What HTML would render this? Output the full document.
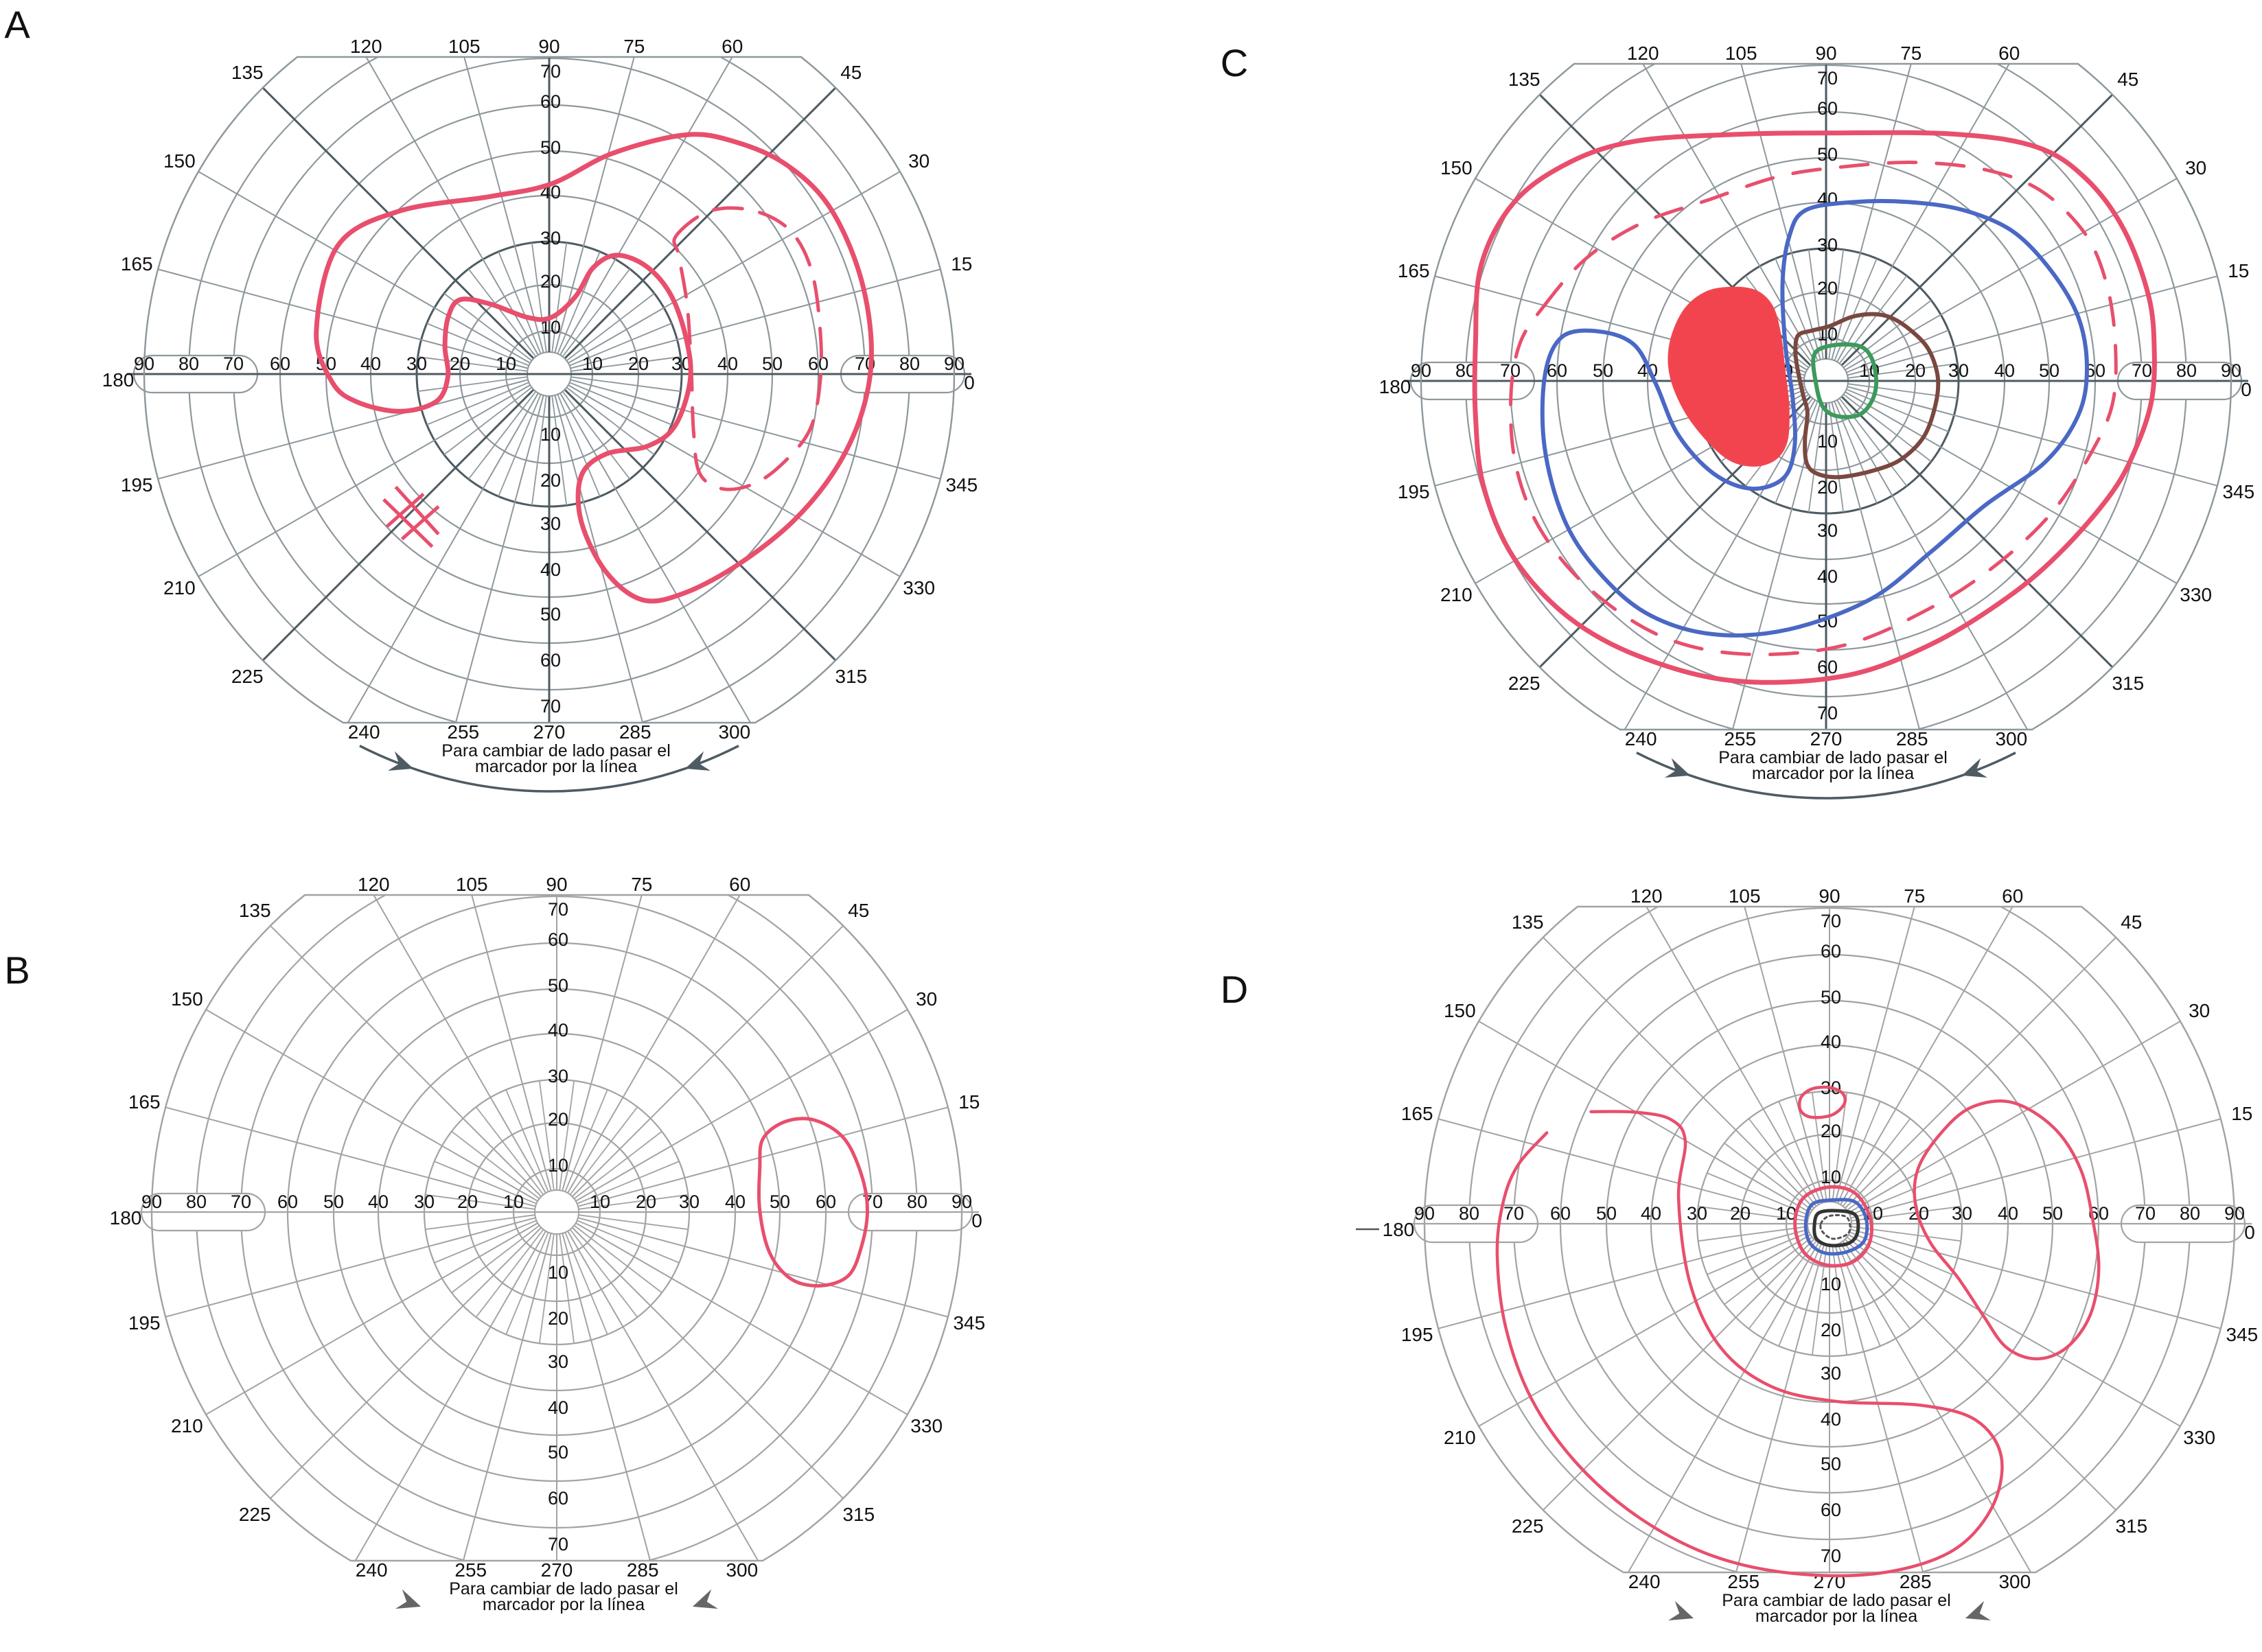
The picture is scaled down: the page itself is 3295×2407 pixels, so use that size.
<!DOCTYPE html>
<html><head><meta charset="utf-8"><style>
html,body{margin:0;padding:0;background:#fff;}
svg{display:block;}
text{font-family:"Liberation Sans",sans-serif;fill:#111;}
</style></head><body>
<svg id="fig" xmlns="http://www.w3.org/2000/svg" width="3295" height="2407" viewBox="0 0 3295 2407">
<rect width="3295" height="2407" fill="#fff"/>
</svg>
<script>
// ---- data (degrees of visual field: horizontal, vertical) ----
const ringDegrees = [10,20,30,40,50,60,70,80,90];
const axisTickLabels = ["10","20","30","40","50","60","70","80","90"];
const vertTickLabels = ["10","20","30","40","50","60","70"];
const meridianLabels = [0,15,30,45,60,75,90,105,120,135,150,165,180,195,210,225,240,255,270,285,300,315,330,345];

const isopterAOuter = [[-47.3,28.6],[-52.1,9.5],[-48.7,-1.7],[-43.2,-6.2],[-33.7,-8.4],[-25.5,-6.2],[-22.8,-0.6],[-23.5,6.2],[-22.8,12.9],[-20.1,16.8],[-13.2,15.7],[-5.0,12.9],[0.4,12.9],[5.9,17.4],[10.0,24.1],[15.4,26.9],[22.2,24.1],[27.7,17.4],[31.1,7.3],[31.8,-1.7],[28.4,-11.8],[22.2,-16.3],[12.7,-18.0],[7.2,-23.0],[7.2,-33.1],[12.7,-44.3],[20.9,-50.5],[30.4,-48.8],[42.7,-42.1],[55.0,-32.0],[64.5,-19.6],[70.0,-6.2],[71.4,7.3],[68.6,23.0],[61.8,37.6],[52.3,46.6],[41.3,51.6],[30.4,53.3],[14.1,49.4],[0.4,42.6],[-13.2,39.8],[-33.7,36.5]];
const isopterADashed = [[28.4,30.9],[35.9,36.5],[45.4,36.5],[53.6,32.0],[58.4,23.0],[60.4,9.5],[60.4,-1.7],[58.4,-11.8],[53.6,-18.5],[46.8,-24.1],[39.3,-25.8],[33.8,-22.4],[32.5,-12.9],[32.1,0.6],[31.1,15.2],[29.1,26.4]];
const hashMarksA = [[[-37.1,-28.1],[-26.2,-38.7]],[[-34.4,-25.3],[-24.8,-35.9]],[[-36.4,-34.2],[-28.2,-26.9]],[[-33.0,-37.0],[-24.8,-29.7]]];

const isopterB = [[46.2,16.4],[51.0,20.2],[57.4,20.5],[63.8,16.4],[67.6,8.3],[68.9,0.3],[67.6,-7.7],[64.8,-14.1],[59.0,-16.4],[52.6,-15.1],[47.8,-9.3],[45.5,0.3],[45.5,9.9]];

const isopterCOuter = [[-77.8,8.1],[-76.6,25.6],[-69.3,39.6],[-57.1,48.4],[-42.4,53.2],[-20.5,55.0],[0.2,55.4],[28.3,55.0],[46.6,51.9],[57.6,44.9],[66.1,33.5],[71.6,18.6],[72.8,6.3],[72.2,-4.2],[69.1,-13.9],[63.7,-24.4],[52.7,-37.5],[40.5,-48.1],[23.4,-58.6],[3.9,-65.6],[-20.5,-66.5],[-41.2,-61.2],[-57.1,-52.5],[-69.3,-39.3],[-76.0,-23.5],[-77.8,-7.7]];
const isopterCDashed = [[-62.6,16.8],[-53.4,27.4],[-41.2,35.3],[-26.6,40.5],[-10.7,45.8],[3.9,48.0],[19.8,48.9],[35.6,47.1],[47.8,42.3],[57.6,32.6],[62.4,21.2],[64.3,8.1],[63.7,-5.1],[58.8,-16.5],[50.2,-29.6],[38.0,-41.1],[23.4,-50.7],[3.9,-59.0],[-18.0,-60.8],[-36.3,-56.8],[-52.2,-46.3],[-63.2,-33.2],[-68.7,-19.1],[-69.9,-4.2],[-68.0,8.1]];
const isopterCBlue = [[-8.3,32.6],[-4.6,38.3],[6.3,40.1],[18.5,40.1],[30.7,38.3],[41.7,33.5],[50.2,24.7],[56.3,14.2],[58.2,2.8],[56.3,-7.7],[49.0,-18.2],[35.6,-27.9],[23.4,-38.4],[10.0,-48.9],[-8.3,-55.5],[-25.4,-56.4],[-40.0,-51.6],[-51.0,-41.9],[-58.3,-30.5],[-62.6,-14.7],[-62.6,1.1],[-58.9,9.8],[-51.0,11.1],[-43.0,8.1],[-38.2,-0.7],[-33.3,-12.1],[-25.4,-20.9],[-16.8,-24.4],[-9.5,-21.8],[-7.1,-14.7],[-7.7,-4.2],[-9.3,8.1],[-9.8,22.1]];
const scotomaC = [[-20.6,21.1],[-15.5,20.1],[-12.0,16.5],[-10.4,10.4],[-9.7,2.8],[-8.7,-5.9],[-8.9,-13.5],[-11.5,-17.6],[-16.5,-19.1],[-22.1,-17.6],[-27.7,-12.5],[-32.3,-5.9],[-35.1,1.8],[-34.9,8.9],[-31.8,16.0],[-26.7,20.1]];
const isopterCBrown = [[-6.4,10.4],[-3.3,11.5],[0.8,12.5],[5.9,14.5],[10.9,15.0],[15.0,14.0],[19.6,10.9],[23.2,6.9],[25.2,0.8],[24.7,-5.3],[22.1,-12.5],[17.0,-17.6],[10.9,-20.1],[3.3,-21.6],[-1.8,-20.9],[-4.3,-18.6],[-4.8,-13.5],[-4.3,-7.4],[-5.3,-3.3],[-6.6,2.8],[-7.1,6.9]];
const isopterCGreen = [[-2.8,5.9],[0.8,8.1],[7.4,8.1],[10.4,5.3],[11.5,-0.3],[10.4,-4.8],[7.4,-7.9],[2.3,-8.1],[-0.8,-5.9],[-2.3,-0.8]];

const isopterDRight = [[25.2,20.5],[31.8,26.1],[40.9,27.2],[50.1,21.5],[56.0,12.3],[58.7,1.0],[60.0,-10.2],[58.0,-20.5],[52.8,-27.7],[46.2,-30.2],[39.6,-27.7],[34.4,-20.5],[29.1,-12.3],[22.6,-4.1],[19.3,4.1],[19.9,12.3]];
const isopterDSpiral = [[-62.8,20.2],[-69.2,12.8],[-72.5,4.2],[-73.7,-7.1],[-71.8,-23.1],[-66.0,-39.1],[-55.8,-53.5],[-42.0,-65.4],[-26.0,-73.7],[-8.3,-77.6],[10.9,-77.6],[26.9,-72.8],[35.9,-63.2],[38.2,-51.9],[32.7,-43.9],[20.5,-40.7],[1.3,-39.8],[-13.1,-36.5],[-24.4,-27.9],[-31.4,-13.5],[-34.0,5.8],[-32.4,18.6],[-35.6,23.4],[-43.6,25.0],[-53.2,25.0]];
const islandD = [[-6.5,28.5],[-4,30.5],[0,30.8],[3,29.5],[3.3,27],[0.5,24.5],[-4,24],[-6.5,25.5]];
const centralDRed = [[-8,0],[-6,6],[0,8.5],[6,7],[9.5,1],[9,-5],[5,-9],[-1,-9.5],[-6,-6.5]];
const centralDBlue = [[-5.5,0],[-4,4.5],[1,5.5],[6,5],[8.5,1],[8,-4],[4,-6.5],[-1,-6.8],[-4.5,-4.5]];
const centralDBlack = [[-3.5,-0.5],[-2.5,2.5],[2,3],[6,2],[6.5,-2],[4.5,-4.5],[0,-5],[-3,-3.5]];
const centralDDotted = [[-2,0],[0,1.8],[4,1.5],[4.5,-2],[1,-3.5],[-1.5,-2]];

// ---- geometry ----
const NS = "http://www.w3.org/2000/svg";
const svg = document.getElementById('fig');
const ringPx = [0,63,130,193,260,325,392,460,525,590];
const TOP = 462, BOT = 508, OUTER = 590, INNER = 32;
function rOf(d){
  if (d >= 90) return 590 + (d-90)*6.5;
  const i = Math.floor(d/10); const f = d/10 - i;
  return ringPx[i] + f*(ringPx[i+1]-ringPx[i]);
}
function pt(p,h,v){
  const e = Math.hypot(h,v), th = Math.atan2(v,h), r = rOf(e);
  return [p.cx + r*Math.cos(th), p.cy - r*Math.sin(th)];
}
function mk(tag, attrs, parent){
  const el = document.createElementNS(NS, tag);
  for (const k in attrs) el.setAttribute(k, attrs[k]);
  (parent||svg).appendChild(el);
  return el;
}
function spline(pts, closed){
  const n = pts.length; let d = 'M' + pts[0][0].toFixed(1) + ' ' + pts[0][1].toFixed(1);
  const get = i => closed ? pts[(i+n)%n] : pts[Math.max(0, Math.min(n-1, i))];
  const m = closed ? n : n-1;
  for (let i=0;i<m;i++){
    const p0=get(i-1), p1=get(i), p2=get(i+1), p3=get(i+2);
    const c1=[p1[0]+(p2[0]-p0[0])/6, p1[1]+(p2[1]-p0[1])/6];
    const c2=[p2[0]-(p3[0]-p1[0])/6, p2[1]-(p3[1]-p1[1])/6];
    d += ' C'+c1[0].toFixed(1)+' '+c1[1].toFixed(1)+' '+c2[0].toFixed(1)+' '+c2[1].toFixed(1)+' '+p2[0].toFixed(1)+' '+p2[1].toFixed(1);
  }
  return d + (closed ? ' Z' : '');
}

const panels = [
  {id:'a', cx:800, cy:545, dark:true, arc:true},
  {id:'b', cx:811, cy:1766, dark:false, arc:false},
  {id:'c', cx:2660, cy:555, dark:true, arc:true},
  {id:'d', cx:2665, cy:1783, dark:false, arc:false}
];
const letters = [['A',25,40],['B',25,1418],['C',1798,96],['D',1798,1446]];

panels.forEach(p => {
  const g = mk('g', {});
  
  
  const grid = p.dark ? '#8e989d' : '#a3a3a3';
  const darkc = p.dark ? '#4e5b62' : '#a3a3a3';
  const {cx, cy} = p;
  const xt = Math.sqrt(OUTER*OUTER - TOP*TOP), xb = Math.sqrt(OUTER*OUTER - BOT*BOT);
  const outline = `M${cx-xt} ${cy-TOP} L${cx+xt} ${cy-TOP} A${OUTER} ${OUTER} 0 0 1 ${cx+xb} ${cy+BOT} L${cx-xb} ${cy+BOT} A${OUTER} ${OUTER} 0 0 1 ${cx-xt} ${cy-TOP} Z`;
  const cp = mk('clipPath', {id:'clip-'+p.id}, g);
  mk('path', {d: outline}, cp);
  const gg = mk('g', {'clip-path':'url(#clip-'+p.id+')'}, g);
  
  
  ringDegrees.forEach(d => {
    const c = mk('circle', {cx, cy, r: rOf(d), fill:'none', stroke: (d===30 ? darkc : grid), 'stroke-width': (d===30 && p.dark) ? 3 : 2.2}, gg);
    
    
  });
  for (let a=0; a<360; a+=7.5){
    const main = a % 15 === 0;
    const isDark = p.dark && (a % 45 === 0);
    const r2 = main ? 720 : rOf(30);
    const t = a*Math.PI/180;
    const ln = mk('line', {x1: cx+INNER*Math.cos(t), y1: cy-INNER*Math.sin(t), x2: cx+r2*Math.cos(t), y2: cy-r2*Math.sin(t), stroke: isDark ? darkc : grid, 'stroke-width': isDark ? 3 : (main ? 2 : 1.8)}, gg);
    
    
  }
  const ic = mk('circle', {cx, cy, r: INNER, fill:'#fff', stroke: grid, 'stroke-width': 2}, gg);
  
  
  const vx = mk('line', {x1: cx, y1: cy-INNER, x2: cx, y2: cy-700, stroke: darkc, 'stroke-width': p.dark ? 3 : 2}, gg);
  
  
  [-1,1].forEach(s => {
    const x0 = cx + s*425, x1 = cx + s*605;
    const l = Math.min(x0,x1), w = Math.abs(x1-x0);
    const tab = mk('rect', {x: l, y: cy-27, width: w, height: 54, rx: 27, fill:'#fff', stroke: grid, 'stroke-width': 2.2}, g);
    
    
  });
  const hx = mk('line', {x1: cx-615, y1: cy, x2: cx+615, y2: cy, stroke: darkc, 'stroke-width': p.dark ? 3 : 2.2}, g);
  
  
  const ol = mk('path', {d: outline, fill:'none', stroke: grid, 'stroke-width': 2.4}, g);
  
  

  axisTickLabels.forEach((lab, i) => {
    const r = rOf(ringDegrees[i]);
    [-1,1].forEach(s => {
      const t = mk('text', {x: cx + s*r, y: cy-6, 'font-size': 27, 'text-anchor':'middle'}, g);
      t.textContent = lab;
      
      
    });
  });
  vertTickLabels.forEach((lab, i) => {
    const r = rOf(ringDegrees[i]);
    const ty = mk('text', {x: cx+2, y: cy - Math.min(r+6, TOP-20) + 10, 'font-size': 27, 'text-anchor':'middle'}, g);
    ty.textContent = lab;
    
    
    const tb = mk('text', {x: cx+2, y: cy + Math.min(r+24, BOT-25) + 10, 'font-size': 27, 'text-anchor':'middle'}, g);
    tb.textContent = lab;
    
    
  });
  meridianLabels.forEach(a => {
    const t = a*Math.PI/180;
    let x, y;
    if (a>=60 && a<=120){ x = cx + TOP*Math.cos(t)/Math.sin(t); y = cy - TOP - 6; }
    else if (a>=240 && a<=300){ x = cx + 0.92*BOT*Math.cos(t)/Math.abs(Math.sin(t)); y = cy + BOT + 23; }
    else if (a===0){ x = cx + 612; y = cy + 22; }
    else if (a===180){ x = cx - 628; y = cy + 18; }
    else { x = cx + 622*Math.cos(t); y = cy - 622*Math.sin(t) + 10; }
    const tx = mk('text', {x, y, 'font-size': 28, 'text-anchor':'middle'}, g);
    tx.textContent = String(a);
    
    
  });
  const t1 = mk('text', {x: cx+10, y: cy+557, 'font-size': 25, 'text-anchor':'middle'}, g);
  t1.textContent = 'Para cambiar de lado pasar el';
  
  
  const t2 = mk('text', {x: cx+10, y: cy+580, 'font-size': 25, 'text-anchor':'middle'}, g);
  t2.textContent = 'marcador por la línea';
  
  
  const R = 608;
  const arcPt = deg => { const r = deg*Math.PI/180; return [cx + R*Math.cos(r), cy - R*Math.sin(r)]; };
  const col = p.arc ? '#4e5b62' : '#666';
  if (p.arc){
    const [sx,sy] = arcPt(243), [ex,ey] = arcPt(297);
    const arc = mk('path', {d:`M${sx} ${sy} A${R} ${R} 0 0 0 ${ex} ${ey}`, fill:'none', stroke: col, 'stroke-width': 3.5}, g);
    
    
  }
  [[251,1],[289,-1]].forEach(([deg,s]) => {
    const r = deg*Math.PI/180;
    const [x,y] = arcPt(deg);
    // direction toward 270 along the arc
    let dx = s*(-Math.sin(r)), dy = s*(-Math.cos(r));
    const L = Math.hypot(dx,dy); dx/=L; dy/=L;
    const px = -dy, py = dx;
    const d = `M${x} ${y} L${x-34*dx+15*px} ${y-34*dy+15*py} L${x-22*dx} ${y-22*dy} L${x-34*dx-15*px} ${y-34*dy-15*py} Z`;
    const tri = mk('path', {d, fill: col}, g);
    
    
  });
  p.g = g;
});

letters.forEach(([L,x,y]) => {
  const t = mk('text', {x, y, 'font-size': 56, 'text-anchor':'middle', 'dominant-baseline':'middle'});
  t.textContent = L;
  
  
});

function curve(p, data, opts, name, closed){
  const pts = data.map(([h,v]) => pt(p,h,v));
  const el = mk('path', Object.assign({d: spline(pts, closed!==false), fill:'none', 'stroke-linecap':'round', 'stroke-linejoin':'round'}, opts), p.g);
  
  
  return el;
}
const RED = '#e84f6d', BLUE = '#4a68c4';
const [pA, pB, pC, pD] = panels;
curve(pA, isopterAOuter, {stroke: RED, 'stroke-width': 7}, 'isopter-a-outer');
curve(pA, isopterADashed, {stroke: RED, 'stroke-width': 5, 'stroke-dasharray':'42 26'}, 'isopter-a-dashed');
hashMarksA.forEach(seg => {
  const [s,e] = seg.map(([h,v]) => pt(pA,h,v));
  const l = mk('line', {x1:s[0], y1:s[1], x2:e[0], y2:e[1], stroke: RED, 'stroke-width': 5}, pA.g);
  
  
});
curve(pB, isopterB, {stroke: RED, 'stroke-width': 5}, 'isopter-b');
curve(pC, scotomaC, {stroke: '#f04650', 'stroke-width': 3, fill: '#f2444f'}, 'scotoma-c');
curve(pC, isopterCOuter, {stroke: RED, 'stroke-width': 7}, 'isopter-c-outer');
curve(pC, isopterCDashed, {stroke: RED, 'stroke-width': 5, 'stroke-dasharray':'40 30'}, 'isopter-c-dashed');
curve(pC, isopterCBlue, {stroke: BLUE, 'stroke-width': 6}, 'isopter-c-blue');
curve(pC, isopterCBrown, {stroke: '#7a4840', 'stroke-width': 6}, 'isopter-c-brown');
curve(pC, isopterCGreen, {stroke: '#3c9a5c', 'stroke-width': 6}, 'isopter-c-green');
curve(pD, isopterDRight, {stroke: RED, 'stroke-width': 4.5}, 'isopter-d-right');
curve(pD, isopterDSpiral, {stroke: RED, 'stroke-width': 4.5}, 'isopter-d-spiral', false);
curve(pD, islandD, {stroke: RED, 'stroke-width': 4.5}, 'isopter-d-island');
curve(pD, centralDRed, {stroke: RED, 'stroke-width': 5}, 'isopter-d-central-red');
curve(pD, centralDBlue, {stroke: BLUE, 'stroke-width': 5}, 'isopter-d-central-blue');
curve(pD, centralDBlack, {stroke: '#333', 'stroke-width': 5}, 'isopter-d-central-black');
curve(pD, centralDDotted, {stroke: '#555', 'stroke-width': 3, 'stroke-dasharray':'4 5'}, 'isopter-d-central-dotted');
const tick = mk('line', {x1: pD.cx-690, y1: pD.cy+8, x2: pD.cx-656, y2: pD.cy+8, stroke:'#555', 'stroke-width': 2.5});


</script>
</body></html>
